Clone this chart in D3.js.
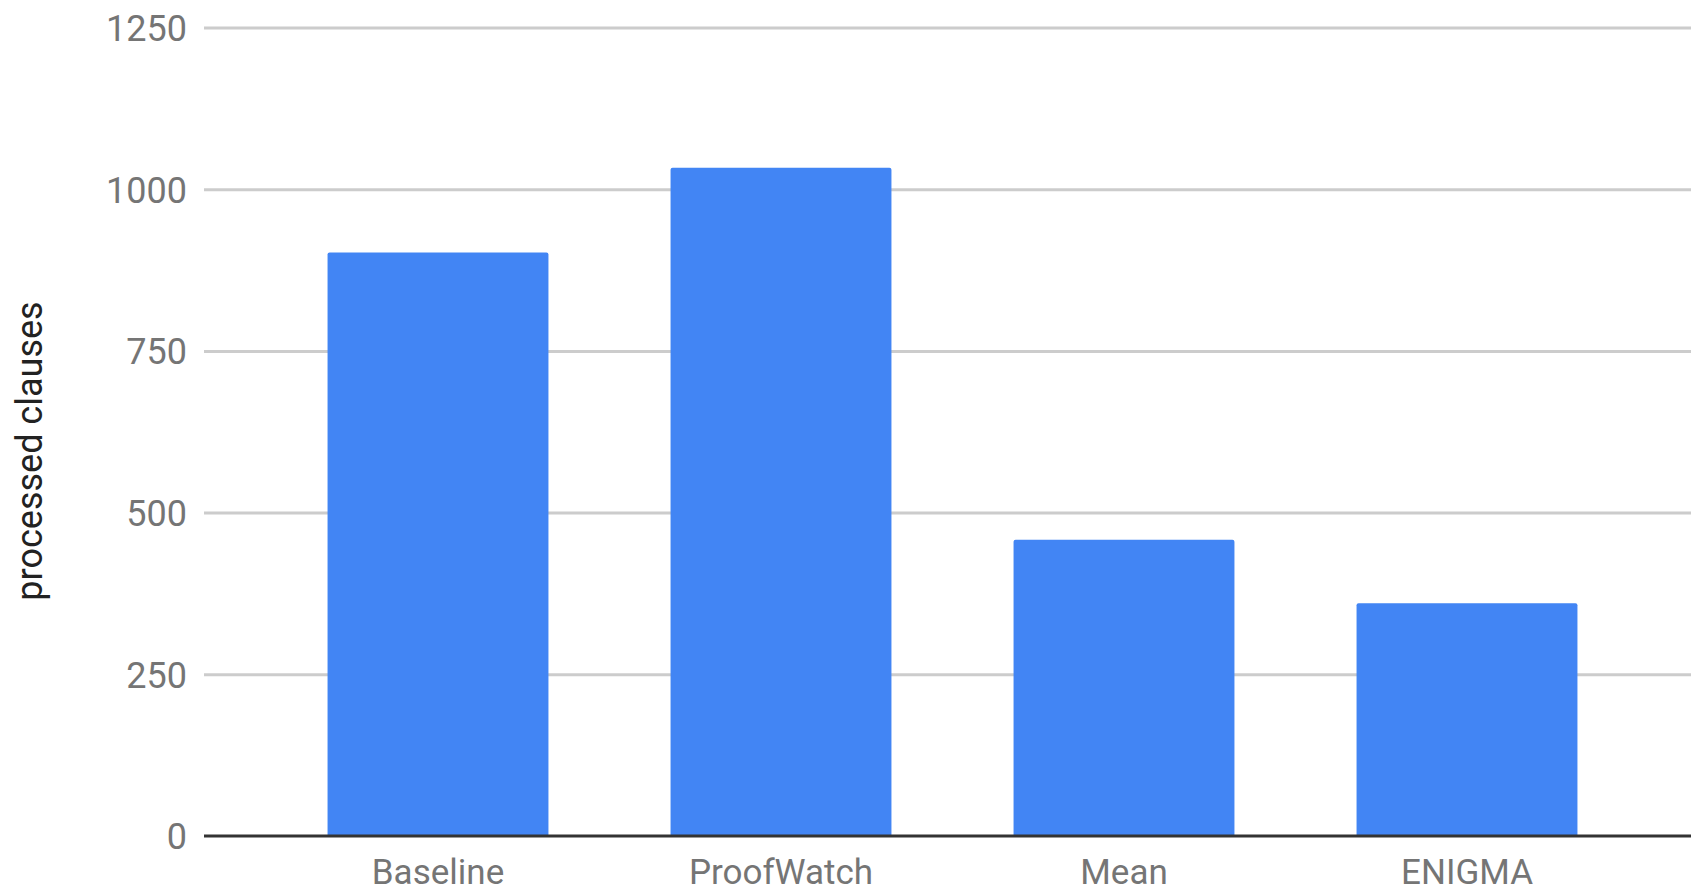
<!DOCTYPE html>
<html>
<head>
<meta charset="utf-8">
<script src="https://cdn.jsdelivr.net/npm/d3@7"></script>
<style>
  html, body { margin: 0; padding: 0; background: #ffffff; }
  svg { display: block; }
  text { font-family: Roboto, "Noto Sans", sans-serif; }
</style>
</head>
<body>
<script>
// Average number of processed clauses per strategy
const categories = ["Baseline", "ProofWatch", "Mean", "ENIGMA"];
const processedClauses = [902, 1033, 458, 360];
const yTicks = [0, 250, 500, 750, 1000, 1250];
const yTitle = "processed clauses";

const W = 1691, H = 894;
const svg = d3.select("body").append("svg")
  .attr("width", W).attr("height", H);

const gridLeft = 204, gridRight = W;

const x = d3.scaleBand()
  .domain(categories)
  .range([266.5, 1638.5])
  .paddingInner(0.356)
  .paddingOuter(0.178);

const y = d3.scaleLinear()
  .domain([0, 1250])
  .range([836, 27.5]);

// Horizontal gridlines with value labels
const yAxis = svg.append("g")
  .attr("transform", `translate(${gridLeft},0)`)
  .call(d3.axisLeft(y)
    .tickValues(yTicks)
    .tickFormat(d3.format("d"))
    .tickSize(-(gridRight - gridLeft))
    .tickPadding(17));
yAxis.select(".domain").remove();
yAxis.selectAll(".tick line")
  .attr("stroke", "#cccccc")
  .attr("stroke-width", 3)
  .attr("display", d => d === 0 ? "none" : null);
yAxis.selectAll(".tick text")
  .attr("fill", "#757575")
  .attr("font-size", 36)
  .attr("dy", "0.36em")
  .attr("font-family", "Roboto, sans-serif");

// Bars
svg.append("g")
  .selectAll("path")
  .data(categories.map((c, i) => ({ c, v: processedClauses[i] })))
  .join("path")
  .attr("fill", "#4285f4")
  .attr("d", d => {
    const x0 = x(d.c), x1 = x0 + x.bandwidth();
    const yt = y(d.v), yb = y(0);
    const r = 2;
    return `M${x0},${yb}V${yt + r}Q${x0},${yt} ${x0 + r},${yt}H${x1 - r}Q${x1},${yt} ${x1},${yt + r}V${yb}Z`;
  });

// Baseline at zero
svg.append("line")
  .attr("x1", gridLeft).attr("x2", gridRight)
  .attr("y1", y(0)).attr("y2", y(0))
  .attr("stroke", "#333333")
  .attr("stroke-width", 3);

// Category labels
const xAxis = svg.append("g")
  .attr("transform", `translate(0,${y(0)})`)
  .call(d3.axisBottom(x).tickSize(0));
xAxis.select(".domain").remove();
xAxis.selectAll(".tick text")
  .attr("fill", "#757575")
  .attr("font-size", 35)
  .attr("font-family", "Roboto, sans-serif")
  .attr("y", 48)
  .attr("dy", 0);

// Vertical axis title
svg.append("text")
  .attr("transform", "translate(41.7,451) rotate(-90)")
  .attr("text-anchor", "middle")
  .attr("font-size", 36)
  .attr("fill", "#222222")
  .text(yTitle);
</script>
</body>
</html>
